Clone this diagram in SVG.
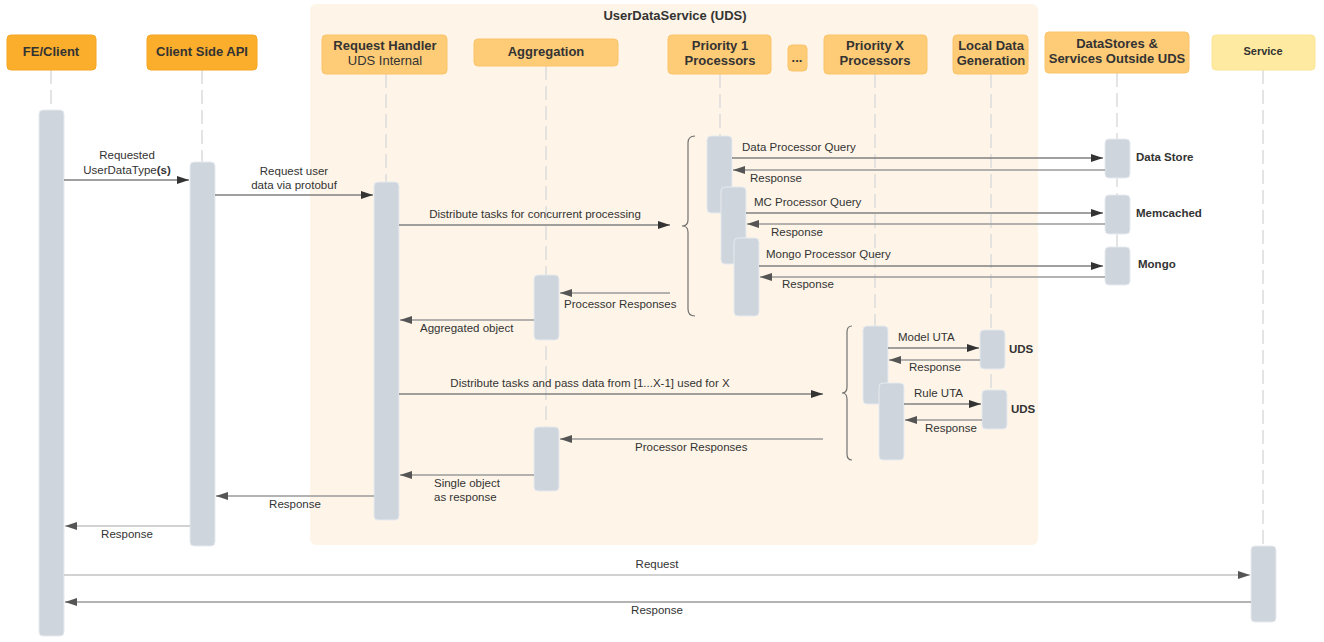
<svg xmlns="http://www.w3.org/2000/svg" width="1324" height="642" viewBox="0 0 1324 642">
<defs>
<style>
text{font-family:"Liberation Sans",Arial,sans-serif;fill:#333;}
.hd{font-size:13px;font-weight:bold;text-anchor:middle;}
.hn{font-size:13px;text-anchor:middle;}
.lb{font-size:11.5px;}
.c{text-anchor:middle;}
.b{font-weight:bold;}
.n1{fill:#fbad2c;stroke:#f5a623;stroke-width:1;}
.n2{fill:#fecb76;stroke:#fbc46a;stroke-width:1;}
.n3{fill:#feeaa0;stroke:#fde495;stroke-width:1;}
.act{fill:#cfd5dd;stroke:#e6eaef;stroke-width:1;}
.life{stroke:#dcdcdc;stroke-width:1.5;stroke-dasharray:14 6;fill:none;}
.msg{stroke:#808080;stroke-width:1.5;fill:none;}
.ret{stroke:#9a9a9a;stroke-width:1.5;fill:none;}
.lt{stroke:#d2d2d2;stroke-width:2;fill:none;}
.brace{stroke:#707070;stroke-width:1.2;fill:none;}
</style>
<marker id="ah" viewBox="0 0 12 8" refX="12" refY="4" markerWidth="12" markerHeight="8" orient="auto" markerUnits="userSpaceOnUse"><path d="M0,0 L12,4 L0,8 Z" fill="#333"/></marker>
<marker id="ar" viewBox="0 0 12 8" refX="12" refY="4" markerWidth="12" markerHeight="8" orient="auto" markerUnits="userSpaceOnUse"><path d="M0,0 L12,4 L0,8 Z" fill="#555"/></marker>
</defs>
<rect width="1324" height="642" fill="#ffffff"/>
<g id="uds-group">
<rect x="310" y="4" width="728" height="541" rx="6" fill="#fef5e8"/>
<text x="675" y="20" class="hd">UserDataService (UDS)</text>
</g>
<g id="lifelines">
<line class="life" x1="51" y1="70" x2="51" y2="110"/>
<line class="life" x1="202" y1="70" x2="202" y2="162"/>
<line class="life" x1="386" y1="74" x2="386" y2="182"/>
<line class="life" x1="546" y1="66" x2="546" y2="427"/>
<line class="life" x1="720" y1="74" x2="720" y2="136"/>
<line class="life" x1="875" y1="74" x2="875" y2="326"/>
<line class="life" x1="991" y1="74" x2="991" y2="390"/>
<line class="life" x1="1117" y1="73" x2="1117" y2="247"/>
<line class="life" x1="1263" y1="70" x2="1263" y2="546"/>
</g>
<g id="node-fe"><rect class="n1" x="7" y="35" width="89" height="35" rx="4"/><text class="hd" x="51" y="56">FE/Client</text><rect class="act" x="39" y="110" width="25" height="526" rx="4"/></g>
<g id="node-api"><rect class="n1" x="147" y="35" width="110" height="35" rx="4"/><text class="hd" x="202" y="56">Client Side API</text><rect class="act" x="190" y="162" width="25" height="384" rx="4"/></g>
<g id="node-rh"><rect class="n2" x="322" y="35" width="125" height="39" rx="4"/><text class="hd" x="385" y="50">Request Handler</text><text class="hn" x="385" y="65">UDS Internal</text><rect class="act" x="374" y="182" width="25" height="338" rx="4"/></g>
<g id="node-agg"><rect class="n2" x="474" y="39" width="144" height="27" rx="4"/><text class="hd" x="546" y="56">Aggregation</text><rect class="act" x="534" y="275" width="25" height="65" rx="4"/><rect class="act" x="534" y="427" width="25" height="64" rx="4"/></g>
<g id="node-p1"><rect class="n2" x="668" y="35" width="103" height="39" rx="4"/><text class="hd" x="720" y="50">Priority 1</text><text class="hd" x="720" y="65">Processors</text>
<rect class="act" x="707" y="136" width="25" height="77" rx="4"/><rect class="act" x="721" y="187" width="25" height="77" rx="4"/><rect class="act" x="734" y="238" width="25" height="78" rx="4"/></g>
<g id="node-dots"><rect class="n2" x="788" y="45" width="19" height="26" rx="4"/><text class="hd" x="797" y="62">...</text></g>
<g id="node-px"><rect class="n2" x="824" y="35" width="103" height="39" rx="4"/><text class="hd" x="875" y="50">Priority X</text><text class="hd" x="875" y="65">Processors</text>
<rect class="act" x="863" y="326" width="25" height="78" rx="4"/><rect class="act" x="879" y="383" width="25" height="77" rx="4"/></g>
<g id="node-local"><rect class="n2" x="953" y="35" width="75" height="39" rx="4"/><text class="hd" x="991" y="50">Local Data</text><text class="hd" x="991" y="65">Generation</text>
<rect class="act" x="980" y="330" width="25" height="39" rx="4"/><rect class="act" x="982" y="390" width="25" height="39" rx="4"/>
<text class="lb b" x="1009" y="353">UDS</text><text class="lb b" x="1011" y="413">UDS</text></g>
<g id="node-ds"><rect class="n2" x="1045" y="32" width="144" height="41" rx="4"/><text class="hd" x="1117" y="48">DataStores &amp;</text><text class="hd" x="1117" y="63">Services Outside UDS</text>
<rect class="act" x="1105" y="139" width="25" height="39" rx="4"/><rect class="act" x="1105" y="195" width="25" height="39" rx="4"/><rect class="act" x="1105" y="247" width="25" height="38" rx="4"/>
<text class="lb b" x="1136" y="161">Data Store</text><text class="lb b" x="1136" y="217">Memcached</text><text class="lb b" x="1138" y="268">Mongo</text></g>
<g id="node-service"><rect class="n3" x="1212" y="35" width="103" height="35" rx="4"/><text class="hd" x="1263" y="55" style="font-size:11px">Service</text><rect class="act" x="1251" y="546" width="25" height="76" rx="4"/></g>
<g id="connectors">
<line class="msg" x1="64" y1="180" x2="189" y2="180" marker-end="url(#ah)"/>
<text class="lb c" x="127" y="159">Requested</text>
<text class="lb c" x="127" y="174">UserDataType<tspan class="b">(s)</tspan></text>
<line class="msg" x1="215" y1="195" x2="373" y2="195" marker-end="url(#ah)"/>
<text class="lb c" x="294" y="175">Request user</text>
<text class="lb c" x="294" y="189">data via protobuf</text>
<line class="msg" x1="399" y1="225" x2="670" y2="225" marker-end="url(#ah)"/>
<text class="lb c" x="535" y="218">Distribute tasks for concurrent processing</text>
<path class="brace" d="M695,136 Q688,136 688,143 L688,220 Q688,226 682,226 Q688,226 688,232 L688,309 Q688,316 695,316"/>
<line class="msg" x1="732" y1="158" x2="1103" y2="158" marker-end="url(#ah)"/>
<text class="lb" x="742" y="151">Data Processor Query</text>
<line class="ret" x1="1105" y1="170" x2="733" y2="170" marker-end="url(#ar)"/>
<text class="lb" x="750" y="182">Response</text>
<line class="msg" x1="746" y1="213" x2="1103" y2="213" marker-end="url(#ah)"/>
<text class="lb" x="754" y="206">MC Processor Query</text>
<line class="ret" x1="1105" y1="224" x2="747" y2="224" marker-end="url(#ar)"/>
<text class="lb" x="771" y="236">Response</text>
<line class="msg" x1="759" y1="266" x2="1103" y2="266" marker-end="url(#ah)"/>
<text class="lb" x="766" y="258">Mongo Processor Query</text>
<line class="ret" x1="1105" y1="277" x2="760" y2="277" marker-end="url(#ar)"/>
<text class="lb" x="782" y="288">Response</text>
<line class="ret" x1="670" y1="293" x2="560" y2="293" marker-end="url(#ar)"/>
<text class="lb" x="564" y="308">Processor Responses</text>
<line class="ret" x1="534" y1="320" x2="400" y2="320" marker-end="url(#ar)"/>
<text class="lb" x="420" y="332">Aggregated object</text>
<line class="msg" x1="399" y1="394" x2="823" y2="394" marker-end="url(#ah)"/>
<text class="lb c" x="590" y="387">Distribute tasks and pass data from [1...X-1] used for X</text>
<path class="brace" d="M852,326 Q847,326 847,332 L847,387 Q847,393 842,393 Q847,393 847,399 L847,454 Q847,460 852,460"/>
<line class="msg" x1="888" y1="348" x2="979" y2="348" marker-end="url(#ah)"/>
<text class="lb" x="898" y="341">Model UTA</text>
<line class="ret" x1="980" y1="360" x2="889" y2="360" marker-end="url(#ar)"/>
<text class="lb" x="909" y="371">Response</text>
<line class="msg" x1="904" y1="404" x2="981" y2="404" marker-end="url(#ah)"/>
<text class="lb" x="914" y="397">Rule UTA</text>
<line class="ret" x1="982" y1="420" x2="905" y2="420" marker-end="url(#ar)"/>
<text class="lb" x="925" y="432">Response</text>
<line class="ret" x1="823" y1="439" x2="560" y2="439" marker-end="url(#ar)"/>
<text class="lb" x="635" y="451">Processor Responses</text>
<line class="ret" x1="534" y1="475" x2="400" y2="475" marker-end="url(#ar)"/>
<text class="lb" x="434" y="487">Single object</text>
<text class="lb" x="434" y="501">as response</text>
<line class="ret" x1="374" y1="496" x2="216" y2="496" marker-end="url(#ar)"/>
<text class="lb c" x="295" y="508">Response</text>
<line class="lt" x1="190" y1="526" x2="65" y2="526" marker-end="url(#ar)"/>
<text class="lb c" x="127" y="538">Response</text>
<line class="lt" x1="64" y1="575" x2="1250" y2="575" marker-end="url(#ar)"/>
<text class="lb c" x="657" y="568">Request</text>
<line class="ret" x1="1251" y1="602" x2="65" y2="602" marker-end="url(#ar)"/>
<text class="lb c" x="657" y="614">Response</text>
</g>
</svg>
